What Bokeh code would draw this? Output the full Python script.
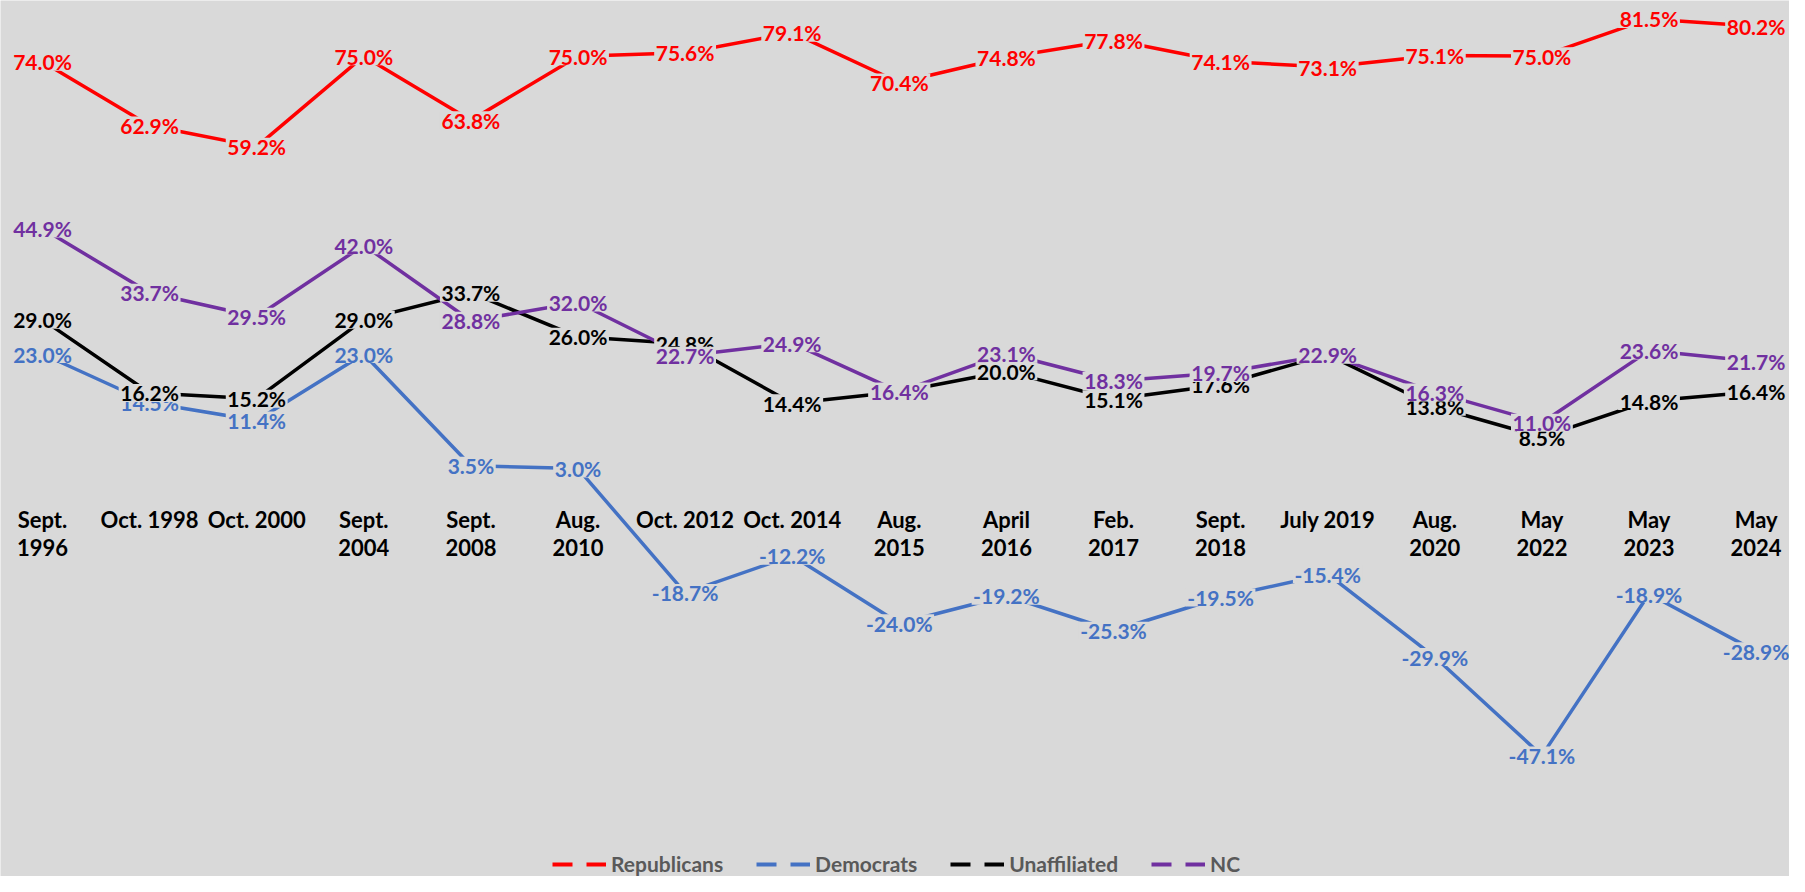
from bokeh.plotting import figure
from bokeh.models import (ColumnDataSource, Range1d, LinearAxis, FixedTicker,
                          Legend, LegendItem)
from bokeh.core.properties import value
from bokeh.embed import file_html
from bokeh.resources import INLINE

# ---------------- data ----------------
categories = ["Sept.\n1996", "Oct. 1998", "Oct. 2000", "Sept.\n2004", "Sept.\n2008",
              "Aug.\n2010", "Oct. 2012", "Oct. 2014", "Aug.\n2015", "April\n2016",
              "Feb.\n2017", "Sept.\n2018", "July 2019", "Aug.\n2020", "May\n2022",
              "May\n2023", "May\n2024"]
republicans = [74.0, 62.9, 59.2, 75.0, 63.8, 75.0, 75.6, 79.1, 70.4, 74.8, 77.8,
               74.1, 73.1, 75.1, 75.0, 81.5, 80.2]
democrats = [23.0, 14.5, 11.4, 23.0, 3.5, 3.0, -18.7, -12.2, -24.0, -19.2, -25.3,
             -19.5, -15.4, -29.9, -47.1, -18.9, -28.9]
unaffiliated = [29.0, 16.2, 15.2, 29.0, 33.7, 26.0, 24.8, 14.4, 16.4, 20.0, 15.1,
                17.6, 22.9, 13.8, 8.5, 14.8, 16.4]
nc = [44.9, 33.7, 29.5, 42.0, 28.8, 32.0, 22.7, 24.9, 16.4, 23.1, 18.3,
      19.7, 22.9, 16.3, 11.0, 23.6, 21.7]

series_names = ["Republicans", "Democrats", "Unaffiliated", "NC"]
series_values = [republicans, democrats, unaffiliated, nc]
series_colors = ["#FF0000", "#4472C4", "#000000", "#7030A0"]

BG = "#d9d9d9"
FONT = "Lato"
LABEL_PX = 21
CHAR_W = {".": 0.27, "%": 0.84, "-": 0.37}


def label_width(s):
    return sum(CHAR_W.get(ch, 0.58) for ch in s) * LABEL_PX + 2


W, H = 1789, 876
p = figure(width=W, height=H, output_backend="svg", toolbar_location=None,
           x_range=Range1d(-0.3922, 16.3118), y_range=Range1d(-68.20, 84.71),
           x_axis_location=None, y_axis_location=None, min_border=0)
p.background_fill_color = BG
p.border_fill_color = BG
p.outline_line_color = None
p.grid.visible = False

# category axis crossing at 0
xaxis = LinearAxis(fixed_location=0,
                   ticker=FixedTicker(ticks=list(range(len(categories)))),
                   major_label_overrides={i: c for i, c in enumerate(categories)})
xaxis.axis_line_color = None
xaxis.major_tick_line_color = None
xaxis.minor_tick_line_color = None
xaxis.major_label_standoff = 14
xaxis.major_label_text_font = FONT
xaxis.major_label_text_font_style = "bold"
xaxis.major_label_text_font_size = "22px"
xaxis.major_label_text_line_height = 1.03
xaxis.major_label_text_color = "#000000"
p.add_layout(xaxis, "below")

sources = []
for name, vals in zip(series_names, series_values):
    labels = [f"{v:.1f}%" for v in vals]
    sources.append(ColumnDataSource(dict(
        x=list(range(len(vals))), y=vals, label=labels,
        w=[label_width(s) for s in labels])))

for src, color in zip(sources, series_colors):
    p.line("x", "y", source=src, line_color=color, line_width=3.5,
           line_cap="round", line_join="round")

for src, color in zip(sources, series_colors):
    p.rect("x", "y", width="w", height=18, width_units="screen",
           height_units="screen", source=src, fill_color=BG, line_color=None)
    p.text("x", "y", text="label", source=src, text_color=color,
           text_font=value(FONT), text_font_style="bold",
           text_font_size=f"{LABEL_PX}px",
           text_align="center", text_baseline="middle")

items = []
nan = float("nan")
for name, color in zip(series_names, series_colors):
    r = p.line(x=[nan], y=[nan], line_color=color, line_width=4, line_dash="20 14")
    items.append(LegendItem(label=name, renderers=[r]))

legend = Legend(items=items, orientation="horizontal", location=(552, 0),
                label_text_font=FONT, label_text_font_style="bold",
                label_text_font_size="21px", label_text_color="#595959",
                glyph_width=54, glyph_height=20, label_standoff=5, spacing=33,
                padding=0, margin=0, border_line_color=None,
                background_fill_alpha=0)
p.add_layout(legend, "center")

open("out.html", "w").write(file_html(p, INLINE))
